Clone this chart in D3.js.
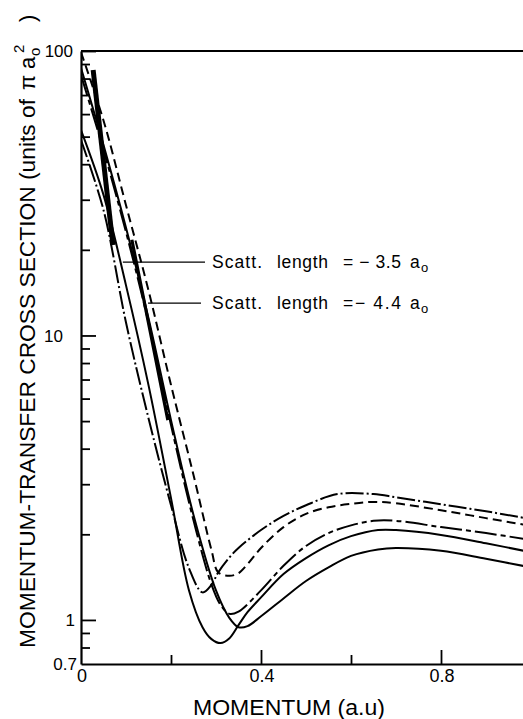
<!DOCTYPE html>
<html><head><meta charset="utf-8">
<script src="https://cdn.jsdelivr.net/npm/d3@7"></script>
<style>html,body{margin:0;padding:0;background:#fff;} svg{display:block;}</style>
</head><body>
<svg id="chart" width="523" height="719"></svg>
<script>
// ---- data (momentum q in a.u., cross section in units of pi a0^2) ----
const yMajorTicks = [1, 10, 100];
const yMinorTicks = [0.8, 0.9, 2, 3, 4, 5, 6, 7, 8, 9, 20, 30, 40, 50, 60, 70, 80, 90];
const yTickLabels = ["100", "10", "1", "0.7"];
const yTickLabelValues = [100, 10, 1, 0.7];
const xMajorTicks = [0.4, 0.8];
const xMinorTicks = [0.2, 0.6];
const xTickLabels = ["0", "0.4", "0.8"];
const xTickLabelValues = [0, 0.4, 0.8];

// dashed curve
const qDashed = [0,0.05,0.1,0.15,0.2,0.25,0.29,0.305,0.33,0.35,0.37,0.4,0.45,0.5,0.55,0.6,0.65,0.7,0.8,0.9,1.0];
const vDashed = [99,57,28.7,14.4,6.7,3.23,1.76,1.47,1.43,1.46,1.57,1.79,2.12,2.36,2.49,2.56,2.60,2.57,2.43,2.28,2.14];
// dash-dot curve
const qDashDot = [0,0.05,0.1,0.15,0.2,0.24,0.27,0.29,0.305,0.33,0.35,0.4,0.45,0.5,0.57,0.65,0.7,0.8,0.9,1.0];
const vDashDot = [48.6,27.6,11.1,5.12,2.53,1.52,1.25,1.33,1.47,1.66,1.79,2.07,2.32,2.53,2.77,2.77,2.70,2.55,2.41,2.26];
// solid curve, scattering length -3.5 a0
const qSolidA = [0,0.05,0.1,0.15,0.2,0.24,0.27,0.29,0.31,0.33,0.35,0.37,0.4,0.45,0.5,0.55,0.6,0.66,0.7,0.8,0.9,1.0];
const vSolidA = [52.7,31.2,15.0,6.69,2.68,1.27,0.943,0.856,0.829,0.863,0.959,1.065,1.20,1.45,1.65,1.83,1.97,2.07,2.07,1.99,1.86,1.73];
// long dash-dot curve
const qLongDash = [0,0.05,0.1,0.15,0.2,0.25,0.29,0.31,0.33,0.35,0.4,0.45,0.5,0.55,0.6,0.65,0.7,0.8,0.9,1.0];
const vLongDash = [82.3,44.9,23.1,11.1,4.84,2.24,1.33,1.13,1.05,1.07,1.27,1.55,1.82,2.02,2.15,2.23,2.23,2.12,2.02,1.91];
// solid curve, scattering length -4.4 a0
const qSolidB = [0,0.05,0.1,0.15,0.2,0.25,0.3,0.33,0.35,0.37,0.4,0.45,0.5,0.55,0.6,0.66,0.7,0.8,0.9,1.0];
const vSolidB = [87.1,46.7,23.9,11.5,5.04,2.34,1.27,1.015,0.943,0.951,1.03,1.19,1.37,1.53,1.68,1.77,1.79,1.75,1.64,1.53];
// experimental (heavy) segments
const qExp1 = [0.027, 0.071];
const vExp1 = [85.8, 20.8];
const qExp2 = [0.113, 0.155, 0.193];
const vExp2 = [21.7, 10.1, 5.04];
// legend
const legendTexts = ["= \u2212 3.5", "=\u2212 4.4"];
const legendAnchorQ = [0.093, 0.149];
const legendAnchorV = [18.1, 13.0];

// ---- drawing ----
const svg = d3.select("#chart");
const m = {left: 81, top: 51, bottom: 664, right: 531};
const x = d3.scaleLinear().domain([0, 1.0]).range([m.left, m.right]);
const y = d3.scaleLog().domain([0.7, 100]).range([m.bottom, m.top]);
const font = "'Liberation Sans', Arial, Helvetica, sans-serif";

svg.append("defs").append("clipPath").attr("id", "clip")
  .append("rect").attr("x", m.left).attr("y", m.top)
  .attr("width", m.right - m.left).attr("height", m.bottom - m.top);

const line = d3.line().x(d => x(d[0])).y(d => y(d[1])).curve(d3.curveCatmullRom.alpha(0.5));
const zip = (q, v) => q.map((d, i) => [d, v[i]]);

const curves = [
  {q: qDashed, v: vDashed, dash: "9,5"},
  {q: qDashDot, v: vDashDot, dash: "18,3,2,3"},
  {q: qSolidA, v: vSolidA, dash: null},
  {q: qLongDash, v: vLongDash, dash: "22,4,5,4"},
  {q: qSolidB, v: vSolidB, dash: null},
];
const g = svg.append("g").attr("clip-path", "url(#clip)");
curves.forEach(c => {
  g.append("path").datum(zip(c.q, c.v)).attr("d", line)
    .attr("fill", "none").attr("stroke", "#000").attr("stroke-width", 2)
    .attr("stroke-dasharray", c.dash);
});
[[qExp1, vExp1, 5], [qExp2, vExp2, 3.2]].forEach(([q, v, w]) => {
  g.append("path").datum(zip(q, v)).attr("d", d3.line().x(d => x(d[0])).y(d => y(d[1])))
    .attr("fill", "none").attr("stroke", "#000").attr("stroke-width", w);
});

// axes
function styleAxis(sel) {
  sel.selectAll("path.domain").attr("stroke", "#000").attr("stroke-width", 2.2);
  sel.selectAll(".tick line").attr("stroke", "#000").attr("stroke-width", 1.8);
  sel.selectAll(".tick text").remove();
}
svg.append("g").attr("transform", `translate(${m.left},0)`)
  .call(d3.axisLeft(y).tickValues(yMajorTicks).tickSize(-15).tickSizeOuter(0).tickFormat(""))
  .call(styleAxis);
svg.append("g").attr("transform", `translate(${m.left},0)`)
  .call(d3.axisLeft(y).tickValues(yMinorTicks).tickSize(-9).tickSizeOuter(0).tickFormat(""))
  .call(styleAxis).select("path.domain").remove();
svg.append("g").attr("transform", `translate(0,${m.bottom})`)
  .call(d3.axisBottom(x).tickValues(xMajorTicks).tickSize(-14).tickSizeOuter(0).tickFormat(""))
  .call(styleAxis);
svg.append("g").attr("transform", `translate(0,${m.bottom})`)
  .call(d3.axisBottom(x).tickValues(xMinorTicks).tickSize(-9).tickSizeOuter(0).tickFormat(""))
  .call(styleAxis).select("path.domain").remove();
// top frame
svg.append("line").attr("x1", x(0)).attr("x2", x(1.0)).attr("y1", y(100)).attr("y2", y(100))
  .attr("stroke", "#000").attr("stroke-width", 2.2);

// tick labels
const yLabelRight = {"100": 73, "10": 63, "1": 75, "0.7": 77};
yTickLabels.forEach((t, i) => {
  svg.append("text").text(t).attr("x", yLabelRight[t]).attr("y", y(yTickLabelValues[i]))
    .attr("dy", "0.36em").attr("text-anchor", "end")
    .attr("font-family", font).attr("font-size", 17).attr("fill", "#000");
});
xTickLabels.forEach((t, i) => {
  svg.append("text").text(t).attr("x", x(xTickLabelValues[i]) + 1).attr("y", 682)
    .attr("text-anchor", "middle")
    .attr("font-family", font).attr("font-size", 18).attr("fill", "#000");
});

// axis titles
svg.append("text").text("MOMENTUM (a.u)").attr("x", 193).attr("y", 715)
  .attr("textLength", 192).attr("lengthAdjust", "spacingAndGlyphs")
  .attr("font-family", font).attr("font-size", 22).attr("fill", "#000");

const yt = svg.append("g").attr("transform", "translate(35,648) rotate(-90)")
  .attr("font-family", font).attr("fill", "#000");
yt.append("text").text("MOMENTUM-TRANSFER CROSS SECTION (units of").attr("x", 0).attr("y", 0)
  .attr("textLength", 549).attr("lengthAdjust", "spacingAndGlyphs").attr("font-size", 22);
yt.append("text").text("\u03C0").attr("x", 558).attr("y", 0).attr("font-size", 22);
yt.append("text").text("a").attr("x", 579).attr("y", 0).attr("font-size", 22);
yt.append("text").text("o").attr("x", 592).attr("y", 5).attr("font-size", 15);
yt.append("text").text("2").attr("x", 595).attr("y", -11).attr("font-size", 15);
yt.append("text").text(")").attr("x", 626).attr("y", 0).attr("font-size", 22);

// legend annotations
legendTexts.forEach((t, i) => {
  const ax = x(legendAnchorQ[i]), ay = y(legendAnchorV[i]);
  const x2 = i === 0 ? 205 : 201;
  svg.append("line").attr("x1", ax).attr("x2", x2).attr("y1", ay).attr("y2", ay)
    .attr("stroke", "#000").attr("stroke-width", 1.3);
  const base = ay + 5.5;
  const lg = svg.append("g").attr("font-family", font).attr("font-size", 17.5).attr("fill", "#000");
  lg.append("text").text("Scatt.").attr("x", 212).attr("y", base).attr("textLength", 50).attr("lengthAdjust", "spacing");
  lg.append("text").text("length").attr("x", 277).attr("y", base).attr("textLength", 51).attr("lengthAdjust", "spacing");
  lg.append("text").text(t).attr("x", 343).attr("y", base).attr("textLength", 58).attr("lengthAdjust", "spacing");
  lg.append("text").text("a").attr("x", 410).attr("y", base);
  lg.append("text").text("o").attr("x", 421).attr("y", base + 4).attr("font-size", 13);
});
</script>
</body></html>
